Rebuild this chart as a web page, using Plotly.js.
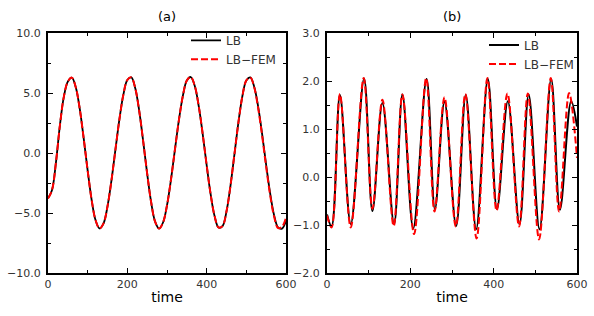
<!DOCTYPE html>
<html>
<head>
<meta charset="utf-8">
<script src="https://cdn.plot.ly/plotly-3.0.1.min.js"></script>
<style>html,body{margin:0;padding:0;background:#fff}#chart{width:594px;height:316px}</style>
</head>
<body>
<div id="chart"></div>
<script>
// Panel (a): samples every 10 time units
const timeA = [0,10,20,30,40,50,60,70,80,90,100,110,120,130,140,150,160,170,180,190,200,210,220,230,240,250,260,270,280,290,300,310,320,330,340,350,360,370,380,390,400,410,420,430,440,450,460,470,480,490,500,510,520,530,540,550,560,570,580,590,600];
const lbA = [-3.78,-3.1,-0.8,2.3,4.7,5.95,6.28,5.48,3.69,1.21,-1.47,-3.90,-5.61,-6.29,-5.87,-4.45,-2.28,0.28,2.80,4.86,6.08,6.30,5.39,3.50,0.97,-1.72,-4.10,-5.72,-6.30,-5.79,-4.36,-2.22,0.28,2.74,4.76,6.04,6.33,5.59,3.91,1.58,-1.02,-3.43,-5.26,-6.21,-6.09,-4.86,-2.73,-0.11,2.54,4.73,6.05,6.30,5.50,3.82,1.54,-1.00,-3.35,-5.18,-6.20,-6.30,-5.65];
const femA = [-3.80,-3.1,-0.8,2.3,4.7,5.95,6.28,5.48,3.69,1.21,-1.47,-3.90,-5.61,-6.29,-5.87,-4.45,-2.28,0.28,2.80,4.86,6.08,6.30,5.39,3.50,0.97,-1.72,-4.10,-5.72,-6.30,-5.79,-4.36,-2.22,0.28,2.74,4.76,6.04,6.33,5.59,3.91,1.58,-1.02,-3.43,-5.26,-6.21,-6.09,-4.86,-2.73,-0.11,2.54,4.73,6.05,6.30,5.45,3.70,1.40,-1.15,-3.50,-5.30,-6.25,-6.15,-5.40];

// Panel (b): turning points
const timeB_LB  = [0,11,31,57,89,109,133,161,181,207,239,259,282,310,333,358,386,408,434,462,484,510,538,559,586,600];
const lbB       = [-0.78,-1.03,1.71,-0.98,2.05,-0.71,1.54,-0.98,1.72,-1.07,2.04,-0.67,1.57,-1.02,1.71,-1.09,2.04,-0.67,1.58,-0.98,1.72,-1.09,2.04,-0.68,1.58,1.05];
const timeB_FEM = [0,11,31,57,88,109,133,160,181,209,238,258,282,309,332,359,385,407,433,461,482,509,537,557,581,600];
const femB      = [-0.80,-1.05,1.73,-1.05,2.06,-0.66,1.61,-1.02,1.72,-1.19,2.06,-0.72,1.66,-1.03,1.73,-1.28,2.06,-0.70,1.74,-1.03,1.74,-1.30,2.06,-0.72,1.75,0.40];

const xTicks = [0,200,400,600];
const yTicksA = [-10,-5,0,5,10];
const yTicksB = [-2,-1,0,1,2,3];

const tickFont = {family:'DejaVu Sans', size:11, color:'#333'};
function xax(domain, anchor){
  return {domain:domain, anchor:anchor, range:[0,600], tickvals:xTicks, ticktext:xTicks.map(String),
    ticks:'inside', ticklen:5, tickwidth:1, tickcolor:'#000', mirror:'allticks',
    showline:true, linecolor:'#000', linewidth:2, showgrid:false, zeroline:false,
    minor:{ticks:'inside', ticklen:3, tickwidth:1, tickcolor:'#000', dtick:100, tick0:0, showgrid:false},
    tickfont:tickFont, title:{text:'time', font:{family:'DejaVu Sans', size:14, color:'#000'}, standoff:2}};
}
function yax(range, vals, minorD, anchor){
  return {anchor:anchor, range:range, tickvals:vals, ticktext:vals.map(v=>v.toFixed(1).replace('-','\u2212')),
    ticks:'inside', ticklen:5, tickwidth:1, tickcolor:'#000', mirror:'allticks',
    showline:true, linecolor:'#000', linewidth:2, showgrid:false, zeroline:false,
    minor:{ticks:'inside', ticklen:3, tickwidth:1, tickcolor:'#000', dtick:minorD, tick0:0, showgrid:false},
    tickfont:tickFont, ticklabelstandoff:3, domain:[0,1]};
}

const data = [
  {x:timeA, y:lbA, xaxis:'x', yaxis:'y', name:'LB', mode:'lines', line:{color:'#000', width:1.8, shape:'spline'}, legend:'legend'},
  {x:timeA, y:femA, xaxis:'x', yaxis:'y', name:'LB\u2212FEM', mode:'lines', line:{color:'#ff0000', width:2, dash:'7px,3px', shape:'spline'}, legend:'legend'},
  {x:timeB_LB, y:lbB, xaxis:'x2', yaxis:'y2', name:'LB', mode:'lines', line:{color:'#000', width:2, shape:'spline', smoothing:1}, legend:'legend2'},
  {x:timeB_FEM, y:femB, xaxis:'x2', yaxis:'y2', name:'LB\u2212FEM', mode:'lines', line:{color:'#ff0000', width:2, dash:'7px,3px', shape:'spline', smoothing:1}, legend:'legend2'}
];

const legBase = {bgcolor:'rgba(0,0,0,0)', borderwidth:0, font:{family:'DejaVu Sans', size:12, color:'#333'}, xanchor:'left', yanchor:'top', tracegroupgap:0, itemwidth:30};
const layout = {
  width:594, height:316, margin:{l:0, r:0, t:33, b:43},
  paper_bgcolor:'#fff', plot_bgcolor:'#fff', showlegend:true,
  xaxis: xax([48/594, 286/594], 'y'),
  yaxis: yax([-10,10], yTicksA, 2.5, 'x'),
  xaxis2: xax([327/594, 577/594], 'y2'),
  yaxis2: yax([-2,3], yTicksB, 0.5, 'x2'),
  legend: Object.assign({}, legBase, {x:186/594, y:1.03}),
  legend2: Object.assign({}, legBase, {x:484/594, y:1.01}),
  annotations:[
    {text:'(a)', xref:'paper', yref:'paper', x:167/594, y:(273-16)/240, xanchor:'center', yanchor:'middle', showarrow:false, font:{family:'DejaVu Sans', size:13, color:'#000'}},
    {text:'(b)', xref:'paper', yref:'paper', x:452/594, y:(273-16)/240, xanchor:'center', yanchor:'middle', showarrow:false, font:{family:'DejaVu Sans', size:13, color:'#000'}}
  ]
};
Plotly.newPlot('chart', data, layout, {displayModeBar:false, staticPlot:true});
</script>
</body>
</html>
